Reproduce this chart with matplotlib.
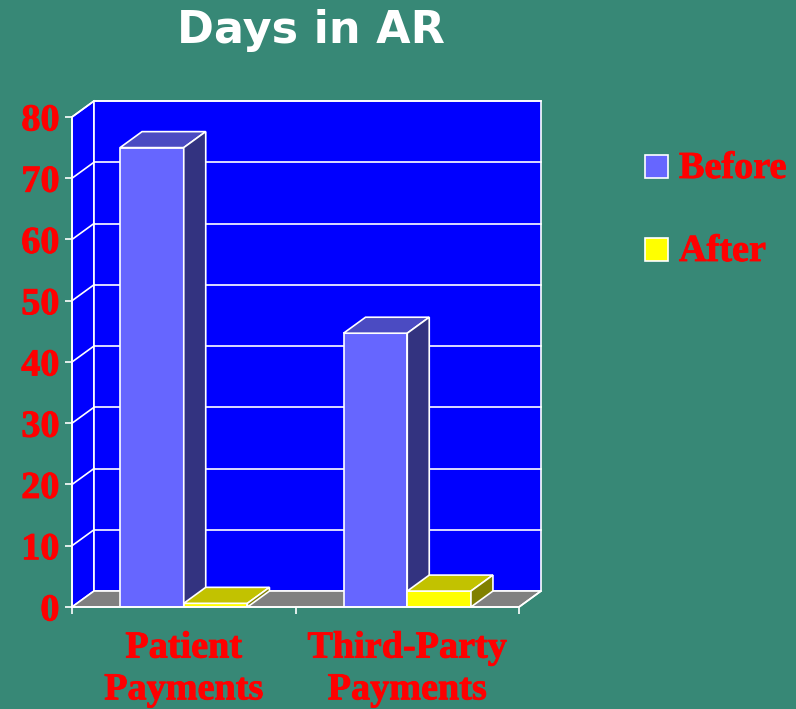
import matplotlib
matplotlib.use("Agg")
import matplotlib.pyplot as plt
from matplotlib.patches import Polygon, Rectangle
from matplotlib import font_manager as fm
import matplotlib.patheffects as pe

# ---- data ----
categories = ["Patient\nPayments", "Third-Party\nPayments"]
series_names = ["Before", "After"]
before_values = [75, 44.7]
after_values = [0.6, 2.6]
y_ticks = [0, 10, 20, 30, 40, 50, 60, 70, 80]
title = "Days in AR"

# ---- style ----
BG = "#378876"
WALL = "#0000FF"
FLOOR = "#808080"
face_cols = {"Before": ("#6666FF", "#4B4BC2", "#333380"),
             "After": ("#FFFF00", "#C2C200", "#808000")}
RED = "#FF0000"
LW = 1.2
HEAVY = [pe.withStroke(linewidth=0.6, foreground=RED)]


def bold_serif(size):
    path = None
    for f in fm.fontManager.ttflist:
        if f.name == "Liberation Serif" and f.weight in (700, "bold") and f.style == "normal":
            path = f.fname
            break
    if path is None:
        path = fm.findfont(fm.FontProperties(family="DejaVu Serif", weight="bold"))
    return fm.FontProperties(fname=path, size=size)


FP = bold_serif(27.5)

W, H = 796, 709
fig = plt.figure(figsize=(W / 100, H / 100), dpi=100, facecolor=BG)

dx = 0.0984   # depth offset in x data units
dy = 2.61     # depth offset in y data units
ymax = 80
ncat = len(categories)

ax = fig.add_axes([72 / W, (H - 607) / H, 469 / W, 506 / H])
ax.set_facecolor("none")
ax.set_xlim(0, ncat + dx)
ax.set_ylim(0, ymax + dy)

# walls
ax.add_patch(Polygon([(0, 0), (dx, dy), (dx, ymax + dy), (0, ymax)], closed=True,
                     facecolor=WALL, edgecolor="white", lw=LW, zorder=1, clip_on=False))
ax.add_patch(Rectangle((dx, dy), ncat, ymax, facecolor=WALL, edgecolor="white",
                       lw=LW, zorder=1, clip_on=False))
for v in y_ticks[1:]:
    ax.plot([dx, ncat + dx], [v + dy, v + dy], color="white", lw=LW, zorder=2, clip_on=False)
    ax.plot([0, dx], [v, v + dy], color="white", lw=LW, zorder=2, clip_on=False)
# floor
ax.add_patch(Polygon([(0, 0), (ncat, 0), (ncat + dx, dy), (dx, dy)], closed=True,
                     facecolor=FLOOR, edgecolor="white", lw=LW, zorder=2, clip_on=False))

# bars
bw = 0.285
z = 3
for i in range(ncat):
    for j, (name, vals) in enumerate(zip(series_names, [before_values, after_values])):
        front, top, side = face_cols[name]
        x0 = i + 0.5 - bw + j * bw
        v = vals[i]
        ax.bar(x0, v, width=bw, align="edge", color=front, edgecolor="white",
               lw=LW, zorder=z)
        ax.add_patch(Polygon([(x0, v), (x0 + dx, v + dy), (x0 + bw + dx, v + dy), (x0 + bw, v)],
                             closed=True, facecolor=top, edgecolor="white", lw=LW, zorder=z))
        ax.add_patch(Polygon([(x0 + bw, 0), (x0 + bw + dx, dy), (x0 + bw + dx, v + dy), (x0 + bw, v)],
                             closed=True, facecolor=side, edgecolor="white", lw=LW, zorder=z))
        z += 1

# axes lines
for s in ["top", "right"]:
    ax.spines[s].set_visible(False)
ax.spines["left"].set_bounds(0, ymax)
ax.spines["bottom"].set_bounds(0, ncat)
for s in ["left", "bottom"]:
    ax.spines[s].set_color("white")
    ax.spines[s].set_linewidth(LW)
    ax.spines[s].set_zorder(10)
ax.plot([ncat, ncat + dx], [0, dy], color="white", lw=LW, zorder=10, clip_on=False)

ax.set_yticks(y_ticks)
ylabels = ax.set_yticklabels([str(t) for t in y_ticks], fontproperties=FP, color=RED)
ax.tick_params(axis="y", colors="white", length=5, width=LW, pad=4, labelcolor=RED)

ax.set_xticks(range(ncat + 1))
ax.set_xticklabels([""] * (ncat + 1))
ax.tick_params(axis="x", which="major", colors="white", length=5, width=LW)
ax.set_xticks([i + 0.5 for i in range(ncat)], minor=True)
xlabels = ax.set_xticklabels(categories, minor=True, fontproperties=FP, color=RED,
                             linespacing=1.25)
ax.tick_params(axis="x", which="minor", length=0, pad=17, labelcolor=RED)
for t in list(ylabels) + list(xlabels):
    t.set_path_effects(HEAVY)

# title
fig.text(311 / W, 1 - 30 / H, title, ha="center", va="center", color="white",
         fontsize=32, fontweight="bold", family="DejaVu Sans")

# legend
legend_y = [166, 249]
legend_base = [178, 261]
for name, yc, yb in zip(series_names, legend_y, legend_base):
    fig.add_artist(Rectangle((645 / W, 1 - (yc + 11.5) / H), 23 / W, 23 / H,
                             transform=fig.transFigure, facecolor=face_cols[name][0],
                             edgecolor="white", lw=LW))
    fig.text(679 / W, 1 - yb / H, name, ha="left", va="baseline", color=RED,
             fontproperties=FP, path_effects=HEAVY)

fig.savefig("out.png", dpi=100, facecolor=BG)
